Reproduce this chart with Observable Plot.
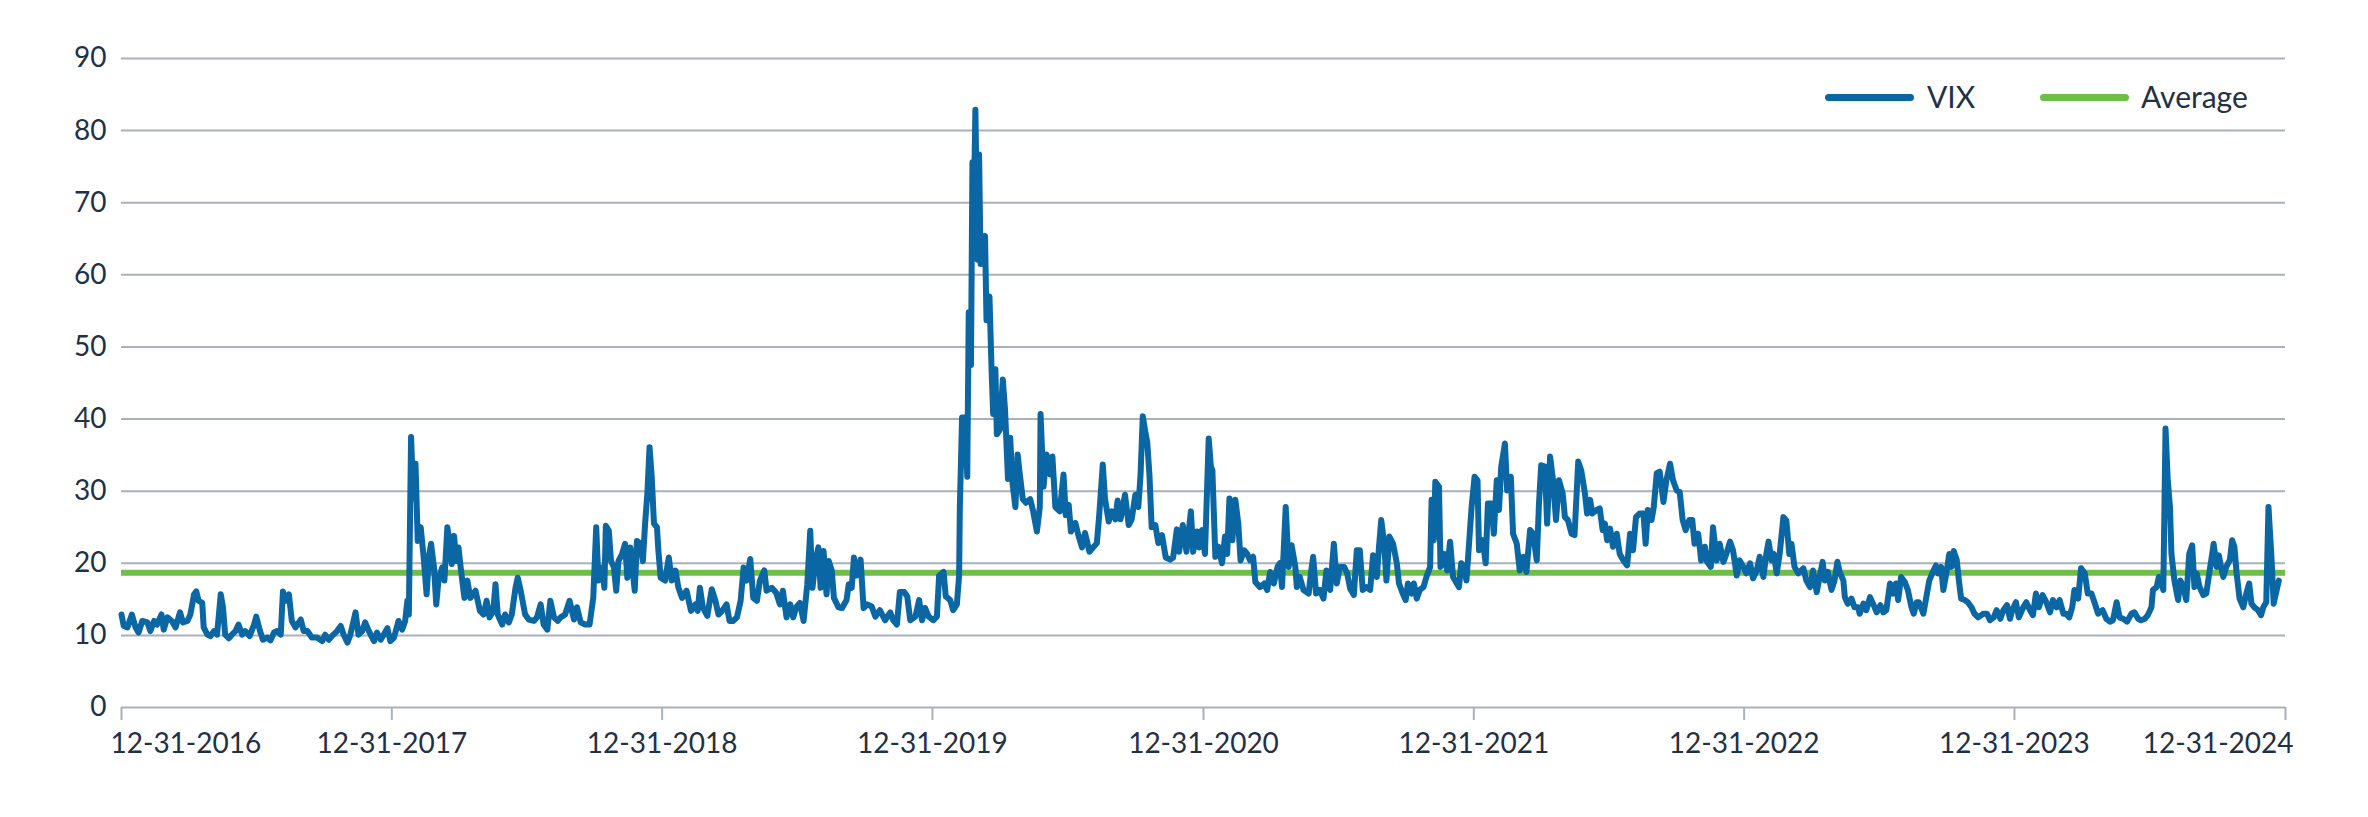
<!DOCTYPE html>
<html>
<head>
<meta charset="utf-8">
<script src="https://cdn.jsdelivr.net/npm/d3@7"></script>
<script src="https://cdn.jsdelivr.net/npm/@observablehq/plot@0.6"></script>
<style>
  body { margin: 0; background: #fff; }
  #wrap { position: relative; width: 2368px; height: 817px; }
  .legend-item { position: absolute; top: 81px; height: 30px; line-height: 30px; font-family: Lato, sans-serif; font-size: 30px; color: #1f3147; white-space: nowrap; }
  .swatch { position: absolute; height: 7px; border-radius: 3.5px; top: 93.5px; }
</style>
</head>
<body>
<div id="wrap"></div>
<script>
// ---- data (day offsets from startDate, VIX close) ----
const startDate = "2016-12-31";

const daysA = [0,3,8,14,19,23,28,35,39,44,48,54,57,62,68,73,79,83,89,93,98,101,104,109,111,116,120,125,129,134,137,140,145,149,154,158,163,167,173,179,182,187,191,197,201,206,210,215,218,221,226,230,235,242,246,251,257,264,271,275,280,284,291,296,300,305,309,316,320,325,329,334,341,345,350,354,359,363,368,374,379,383,386,388,391,394,397,400,404,408,412,415,418,422,425,428,433,436,440,443,446,449,452,455,458,463,467,471,478,484];
const vixA = [12.9,11.3,11.1,12.9,11.1,10.4,12.0,11.8,10.6,12.0,11.5,12.9,10.8,12.5,12.0,11.1,13.2,11.8,12.0,12.9,15.7,16.1,14.8,14.5,11.1,10.1,9.9,10.6,10.1,15.7,13.9,10.1,9.6,10.1,10.6,11.5,10.1,10.6,9.9,11.5,12.6,10.6,9.4,9.7,9.3,10.4,10.6,10.1,16.1,14.8,15.7,12.0,11.1,12.2,10.6,10.6,9.7,9.7,9.2,10.1,9.4,9.9,10.6,11.3,10.1,9.0,10.1,13.2,10.1,10.6,11.8,10.6,9.2,10.4,9.4,10.1,11.0,9.2,9.7,12.0,10.8,12.0,14.8,12.9,37.5,29.0,33.8,23.1,25.0,20.8,15.7,20.8,22.7,19.4,14.3,17.6,19.4,17.6,25.0,22.7,19.9,23.8,20.3,22.2,19.4,15.2,17.6,15.2,16.2,13.4];

const daysB = [489,493,497,502,505,508,514,518,523,527,532,535,539,545,550,557,561,566,570,575,579,584,589,593,599,605,611,615,620,626,632,637,641,644,649,652,654,658,661,665,668,671,676,680,683,687,693,696,701,704,707,710,713,716,719,723,725,728,734,739,743,748,752,757,763,766,769,775,778,781,785,791,797,802,806,811,817,821,826,831,836,840,844,849,853,858,862,868,871,878,884,889,893,898,903,907,911,916,921,926,930,933,937,941,944,948,952,955,959,962,968];
const vixB = [12.9,14.8,12.5,13.4,17.1,12.9,11.5,12.9,11.8,12.9,16.6,18.0,16.2,12.9,12.2,12.0,12.5,14.3,11.5,10.8,14.8,12.5,12.0,12.5,12.9,14.8,12.2,13.9,11.8,11.5,11.5,15.2,25.0,17.6,19.4,16.6,25.2,24.5,20.3,19.4,16.2,20.3,21.3,22.7,18.0,22.2,16.2,23.1,22.7,20.3,25.5,29.6,36.1,31.9,25.5,25.0,21.7,18.0,17.6,20.8,17.6,19.0,16.6,15.2,16.2,14.8,13.4,14.3,13.4,16.6,13.9,12.7,16.4,14.8,12.9,13.4,14.3,12.0,12.0,12.5,14.8,19.4,17.6,20.6,15.2,14.8,17.6,19.0,16.2,16.6,15.9,14.3,16.2,12.5,14.3,12.5,13.9,14.5,12.0,17.1,24.5,16.6,20.3,22.2,16.6,21.7,15.7,20.3,19.0,15.2,13.9];

const daysC = [973,979,982,986,989,993,998,1002,1007,1013,1018,1024,1031,1038,1042,1047,1051,1057,1061,1065,1072,1077,1081,1085,1090,1096,1101,1104,1110,1113,1119,1123,1128,1131,1132,1135,1139,1142,1144,1147,1149,1150,1153,1156,1158,1160,1163,1166,1168,1172,1175,1177,1180,1182,1186,1190,1193,1197,1200,1203,1207,1210,1213,1217,1221,1227,1231,1236,1240,1241,1245,1249,1254,1257,1261,1267,1272,1275,1279,1282,1288,1292,1297,1301,1307,1312,1317,1320,1325,1328,1333,1337,1342,1345,1349,1355,1360,1364,1369,1373,1376,1379,1382,1385,1388,1391,1396,1400,1405,1410,1416,1420,1425,1428,1433,1438,1444,1447,1452,1455];
const vixC = [13.8,14.9,17.1,16.6,20.8,18.3,20.5,13.8,14.3,14.0,12.6,13.5,12.1,13.2,12.1,11.5,16.0,16.0,15.4,12.1,12.6,14.9,12.1,13.8,12.6,12.1,12.6,18.3,18.8,15.4,14.9,13.5,14.3,18.3,27.8,40.2,40.2,32.0,54.8,47.5,75.6,64.3,82.9,62.1,76.7,61.5,63.2,65.4,53.7,57.0,46.3,40.7,46.9,37.9,38.5,45.5,41.3,31.7,37.4,31.2,27.8,35.1,32.3,28.9,28.4,28.9,27.2,24.4,27.8,40.7,30.6,35.1,32.3,34.8,27.8,27.2,32.3,26.7,28.1,24.4,25.6,23.9,22.2,24.2,21.6,22.2,22.8,26.4,33.7,28.9,25.8,27.2,26.1,28.7,26.1,29.5,25.3,26.1,29.5,27.8,32.3,40.4,38.5,36.8,32.3,25.0,25.3,22.8,23.9,20.8,20.5,20.8,24.7,21.6,25.3,21.6,27.2,21.6,24.4,22.2];

const daysD = [1459,1463,1468,1471,1473,1477,1481,1486,1490,1493,1496,1500,1504,1508,1511,1516,1520,1524,1528,1531,1537,1543,1547,1551,1556,1561,1564,1567,1572,1576,1580,1585,1587,1591,1596,1603,1606,1609,1613,1618,1623,1627,1632,1637,1641,1645,1651,1655,1659,1664,1668,1672,1676,1681,1686,1690,1695,1698,1701,1705,1708,1712,1717,1722,1725,1730,1734,1737,1742,1745,1749,1753,1758,1762,1767,1769,1772,1774,1779,1781,1786,1790,1794,1798,1803,1806,1809,1813,1816,1818,1823,1827,1831,1833,1838,1842,1845,1850,1853,1857,1860,1863,1868,1871,1876,1879,1884,1888,1893,1897,1902,1906,1911,1914,1917,1922,1925,1929,1933,1937,1941];
const vixD = [24.6,21.3,37.3,33.4,32.9,20.9,22.3,20.0,23.7,21.3,29.0,23.2,28.8,25.5,20.4,21.8,21.3,20.4,20.9,17.4,16.7,17.2,16.3,18.8,17.2,19.5,20.0,16.7,27.8,19.5,22.5,19.5,16.7,18.1,16.3,15.8,18.6,20.9,15.8,16.3,15.1,19.0,16.3,22.7,17.2,19.5,19.5,18.6,16.5,15.6,21.8,21.8,16.3,16.7,16.3,21.1,18.1,22.3,26.0,22.7,17.6,23.7,22.7,20.0,17.2,15.8,14.9,17.2,15.8,17.2,15.1,16.3,16.7,18.1,19.5,28.8,23.2,31.3,30.6,19.5,21.3,19.0,23.0,18.1,17.2,16.7,20.0,19.5,17.6,20.4,27.8,32.0,31.5,21.8,23.2,20.0,28.3,28.3,24.1,31.5,27.4,33.4,36.6,30.1,32.0,24.1,22.7,19.0,20.9,18.8,24.6,24.1,20.4,28.3,33.6,33.4,25.5,34.8,31.5,26.0,31.5];

const daysE = [1946,1949,1953,1958,1962,1967,1971,1976,1979,1983,1986,1992,1996,2000,2003,2006,2010,2014,2019,2023,2028,2033,2037,2041,2045,2050,2055,2058,2061,2066,2069,2073,2077,2082,2086,2091,2095,2100,2104,2108,2112,2117,2121,2124,2129,2133,2138,2141,2146,2149,2154,2158,2163,2167,2172,2176,2181,2185,2190,2194,2199,2203,2208,2212,2217,2221,2224,2228,2231,2235,2239,2244,2248,2252,2255,2259,2264,2271,2275,2280,2284,2289,2292,2297,2300,2304,2309,2313,2317,2320,2325,2327,2331,2336,2340,2345,2347,2352,2356,2361,2365,2370,2375,2379,2383,2388,2392,2396,2399,2403,2408,2412,2417,2420,2424,2427];
const vixE = [29.7,26.4,26.0,24.1,23.9,34.1,32.9,29.7,26.9,28.8,26.9,27.4,27.6,24.6,25.5,23.2,24.8,22.3,24.1,21.3,20.4,19.7,24.1,21.8,26.4,26.9,26.9,22.7,27.4,26.0,27.8,32.5,32.7,28.5,31.5,33.8,31.5,30.1,29.9,26.0,24.6,26.0,26.0,22.7,24.1,20.4,22.3,20.2,19.5,25.0,20.4,22.7,20.2,21.3,23.0,21.8,18.3,20.4,19.5,18.6,20.0,17.9,19.0,20.9,18.1,21.3,23.0,20.4,21.3,18.6,21.3,26.4,25.9,21.3,22.7,19.5,18.6,19.3,17.6,16.7,19.0,16.0,17.6,20.2,17.6,18.8,16.3,17.6,20.2,18.8,17.6,15.3,14.4,15.1,13.9,13.9,13.0,14.4,13.5,15.3,14.4,13.2,14.2,13.2,13.5,17.2,15.8,17.2,14.9,18.1,17.4,16.3,13.9,13.0,14.6,14.6];

const daysF = [2433,2437,2441,2445,2450,2453,2457,2460,2464,2468,2471,2474,2478,2481,2484,2489,2493,2498,2502,2507,2514,2519,2523,2528,2532,2537,2541,2546,2550,2553,2558,2562,2568,2572,2577,2581,2585,2589,2594,2599,2604,2608,2613,2617,2622,2626,2630,2634,2637,2642,2646,2651,2655,2660,2664,2669,2675,2680,2685,2689,2694,2698,2703,2708,2714,2718,2723,2727,2732,2736,2741,2743,2748,2751,2754,2757,2760,2763,2766,2768,2772,2777,2780,2784,2788,2792,2796,2799,2802,2806,2811,2815,2819,2822,2825,2829,2832,2835,2838,2842,2847,2850,2853,2856,2860,2865,2869,2873,2876,2880,2885,2889,2892,2896,2899,2903,2906,2909,2913];
const vixF = [13.0,15.3,17.6,18.6,19.7,18.6,19.5,16.3,18.6,21.3,19.5,21.7,20.5,17.6,15.1,14.9,14.6,13.9,13.0,12.5,13.0,13.0,12.1,12.5,13.5,12.3,13.5,14.2,12.3,13.5,14.6,12.5,13.9,14.6,13.5,12.8,15.8,13.9,15.6,14.6,13.2,14.9,13.9,14.9,13.0,13.0,12.5,13.9,16.3,15.1,19.3,18.6,15.8,15.8,14.6,13.0,13.5,12.3,11.9,12.1,14.6,12.5,12.3,11.9,13.0,13.2,12.3,12.1,12.3,12.8,13.9,16.3,16.7,18.1,17.6,16.3,38.7,31.5,27.8,21.3,17.6,14.9,17.6,16.7,14.9,21.3,22.5,16.7,18.6,16.7,15.6,15.8,18.6,20.6,22.7,19.5,21.1,19.5,18.1,19.5,20.5,23.2,22.3,18.6,15.1,13.9,15.8,17.2,14.4,13.9,13.5,12.8,13.9,14.6,27.8,20.9,14.4,15.8,17.6];

const averageVix = 18.7;
const yTicks = [0, 10, 20, 30, 40, 50, 60, 70, 80, 90];
const xTickLabels = ["12-31-2016","12-31-2017","12-31-2018","12-31-2019","12-31-2020","12-31-2021","12-31-2022","12-31-2023","12-31-2024"];
const seriesNames = ["VIX", "Average"];

// ---- styles ----
const blue = "#0b66a4";
const green = "#6fbe47";
const grid = "#a9b1bc";
const ink = "#1f3147";

// ---- build table ----
const base = d3.utcParse("%Y-%m-%d")(startDate);
const segments = [[daysA, vixA], [daysB, vixB], [daysC, vixC], [daysD, vixD], [daysE, vixE], [daysF, vixF]];
const data = segments.flatMap(([ds, vs]) => {
  const n = Math.min(ds.length, vs.length);
  if (ds.length !== vs.length) console.warn("length mismatch", ds.length, vs.length);
  return d3.range(n).map(i => ({date: d3.utcDay.offset(base, ds[i]), vix: vs[i]}));
});
const parseTick = d3.utcParse("%m-%d-%Y");
const tickDates = xTickLabels.map(parseTick);
const labelOf = new Map(tickDates.map((d, i) => [+d, xTickLabels[i]]));
const fmt = d => labelOf.get(+d);

const chart = Plot.plot({
  width: 2368,
  height: 817,
  marginLeft: 121,
  marginRight: 83,
  marginTop: 58,
  marginBottom: 110,
  style: {fontFamily: "Lato, sans-serif", fontSize: "28px", color: ink, background: "white", overflow: "visible"},
  x: {type: "utc", domain: [tickDates[0], tickDates[tickDates.length - 1]]},
  y: {domain: [0, 90]},
  marks: [
    Plot.ruleY(yTicks, {stroke: grid, strokeWidth: 2}),
    Plot.axisY(yTicks, {tickSize: 0, tickPadding: 15, label: null}),
    Plot.axisX(tickDates, {tickSize: 13, stroke: grid, strokeWidth: 2, fill: "none", label: null}),
    Plot.axisX(tickDates.slice(0, 1), {tickSize: 0, tickPadding: 26, textAnchor: "start", dx: -11, tickFormat: fmt, label: null}),
    Plot.axisX(tickDates.slice(1, -1), {tickSize: 0, tickPadding: 26, tickFormat: fmt, label: null}),
    Plot.axisX(tickDates.slice(-1), {tickSize: 0, tickPadding: 26, textAnchor: "end", dx: 8, tickFormat: fmt, label: null}),
    Plot.ruleY([averageVix], {stroke: green, strokeWidth: 6}),
    Plot.line(data, {x: "date", y: "vix", stroke: blue, strokeWidth: 6, strokeLinejoin: "round", strokeLinecap: "round"})
  ]
});

const wrap = document.getElementById("wrap");
wrap.appendChild(chart);

// ---- legend (HTML, overlaid top right) ----
const legendItems = [
  {name: seriesNames[0], color: blue, swatchLeft: 1825, textLeft: 1927},
  {name: seriesNames[1], color: green, swatchLeft: 2040, textLeft: 2141}
];
for (const it of legendItems) {
  const sw = document.createElement("div");
  sw.className = "swatch";
  sw.style.left = it.swatchLeft + "px";
  sw.style.width = "89px";
  sw.style.background = it.color;
  wrap.appendChild(sw);
  const tx = document.createElement("div");
  tx.className = "legend-item";
  tx.style.left = it.textLeft + "px";
  tx.textContent = it.name;
  wrap.appendChild(tx);
}
</script>
</body>
</html>
